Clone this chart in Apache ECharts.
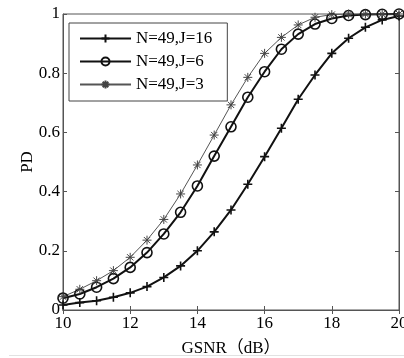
<!DOCTYPE html>
<html>
<head>
<meta charset="utf-8">
<script src="https://cdn.jsdelivr.net/npm/echarts@6/dist/echarts.min.js"></script>
<style>
html,body{margin:0;padding:0;background:#fff;}
#c{width:404px;height:358px;}
</style>
</head>
<body>
<div id="c"></div>
<script>
var gsnr = [10,10.5,11,11.5,12,12.5,13,13.5,14,14.5,15,15.5,16,16.5,17,17.5,18,18.5,19,19.5,20];
var pdJ16 = [0.017,0.025,0.031,0.043,0.058,0.079,0.110,0.149,0.200,0.264,0.338,0.425,0.518,0.614,0.712,0.794,0.867,0.918,0.955,0.980,0.993];
var pdJ6  = [0.040,0.054,0.077,0.106,0.144,0.194,0.257,0.330,0.419,0.520,0.619,0.719,0.805,0.881,0.932,0.966,0.985,0.995,0.998,0.999,1.000];
var pdJ3  = [0.045,0.070,0.099,0.133,0.178,0.236,0.306,0.392,0.490,0.591,0.693,0.786,0.867,0.921,0.963,0.989,0.998,1.000,1.000,1.000,1.000];
var seriesNames = ['N=49,J=16','N=49,J=6','N=49,J=3'];
var xTicks = [10,12,14,16,18,20];
var yTicks = [0,0.2,0.4,0.6,0.8,1];

function pairs(ys){ return gsnr.map(function(x,i){ return [x, ys[i]]; }); }

var plusPath = 'path://M0,5L10,5M5,0L5,10';
var starPath = 'path://M0,5L10,5M5,0L5,10M1.5,1.5L8.5,8.5M1.5,8.5L8.5,1.5';
var font = '"Liberation Serif","Noto Sans CJK SC",serif';

var chart = echarts.init(document.getElementById('c'), null, {renderer:'canvas'});
var axisCol = '#555';
chart.setOption({
  animation:false,
  backgroundColor:'#fff',
  grid:{left:63,right:5,top:14,bottom:48,show:true,borderColor:axisCol,borderWidth:1,
        containLabel:false,outerBoundsMode:'none'},
  legend:{
    left:69, top:23, orient:'vertical',
    data:seriesNames,
    itemWidth:51, itemHeight:10, itemGap:6,
    padding:[7,15,8,10],
    borderColor:'#444', borderWidth:1, backgroundColor:'#fff',
    textStyle:{fontFamily:font,fontSize:17,color:'#000',lineHeight:17}
  },
  xAxis:[{
    type:'value', min:10, max:20, interval:2,
    name:'GSNR（dB）', nameLocation:'middle', nameGap:30, nameMoveOverlap:false,
    nameTextStyle:{fontFamily:font,fontSize:17,color:'#000'},
    axisLine:{show:true,lineStyle:{color:axisCol}},
    axisTick:{inside:true,length:4,lineStyle:{color:axisCol}},
    axisLabel:{fontFamily:font,fontSize:17,color:'#000',margin:5,
      formatter:function(v){ return xTicks.indexOf(v)>=0 ? String(v) : ''; }},
    splitLine:{show:false}
  },{
    type:'value', min:10, max:20, interval:2, position:'top',
    axisLine:{show:true,lineStyle:{color:axisCol}},
    axisTick:{inside:true,length:4,lineStyle:{color:axisCol}},
    axisLabel:{show:false}, splitLine:{show:false}
  }],
  yAxis:[{
    type:'value', min:0, max:1, interval:0.2,
    name:'PD', nameLocation:'middle', nameGap:27, nameMoveOverlap:false,
    nameTextStyle:{fontFamily:font,fontSize:17,color:'#000'},
    axisLine:{show:true,lineStyle:{color:axisCol}},
    axisTick:{inside:true,length:4,lineStyle:{color:axisCol}},
    axisLabel:{fontFamily:font,fontSize:17,color:'#000',margin:3,
      formatter:function(v){ var r=Math.round(v*10)/10; return yTicks.indexOf(r)>=0 ? String(r) : ''; }},
    splitLine:{show:false}
  },{
    type:'value', min:0, max:1, interval:0.2, position:'right',
    axisLine:{show:true,lineStyle:{color:axisCol}},
    axisTick:{inside:true,length:4,lineStyle:{color:axisCol}},
    axisLabel:{show:false}, splitLine:{show:false}
  }],
  series:[{
    name:seriesNames[0], type:'line', data:pairs(pdJ16), smooth:false,
    symbol:plusPath, symbolSize:9, showAllSymbol:true,
    lineStyle:{color:'#111',width:2},
    itemStyle:{color:'none',borderColor:'#111',borderWidth:1.6}
  },{
    name:seriesNames[1], type:'line', data:pairs(pdJ6),
    symbol:'circle', symbolSize:10, showAllSymbol:true,
    lineStyle:{color:'#111',width:2},
    itemStyle:{color:'rgba(255,255,255,0)',borderColor:'#111',borderWidth:1.6}
  },{
    name:seriesNames[2], type:'line', data:pairs(pdJ3),
    symbol:starPath, symbolSize:9, showAllSymbol:true,
    lineStyle:{color:'#555',width:1},
    itemStyle:{color:'none',borderColor:'#444',borderWidth:1}
  }],
  graphic:[{
    type:'line', shape:{x1:9,y1:355.5,x2:404,y2:355.5},
    style:{stroke:'#e2e2e2',lineWidth:1}, silent:true
  }]
});
</script>
</body>
</html>
